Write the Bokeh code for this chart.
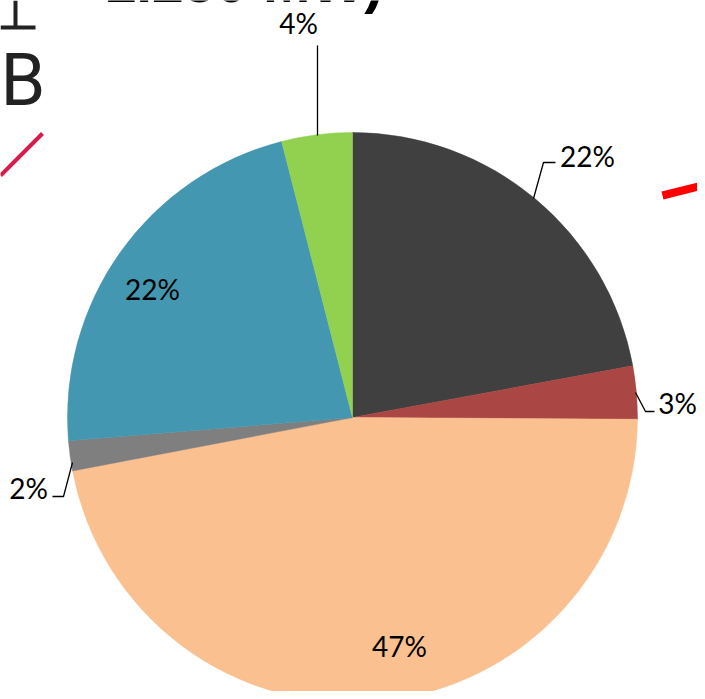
import math
from bokeh.plotting import figure
from bokeh.models import Range1d, ColumnDataSource
from bokeh.core.properties import value
from bokeh.embed import file_html
from bokeh.resources import INLINE

# ---- data ----
categories = ["Dark", "Red", "Peach", "Gray", "Blue", "Green"]
shares = [22.1, 3.0, 46.9, 1.7, 22.3, 4.0]
labels = ["22%", "3%", "47%", "2%", "22%", "4%"]
colors = ["#404040", "#AA4643", "#FAC090", "#7F7F7F", "#4397B0", "#92D050"]

# ---- layout (pixels in picture coords) ----
W, H = 697, 691
CX, CY = 352, 417          # pie centre
R = 285
label_pos = [(587, 155), (677, 402), (399, 645), (28, 487), (152, 288), (298, 22)]
leaders = [
    [(533, 198), (543, 162), (555, 162)],
    [(635, 392), (645, 411), (654, 411)],
    None,
    [(72, 462), (63, 496), (52, 496)],
    None,
    [(317, 135), (317, 45)],
]

def px(x):
    return x - CX

def py(y):
    return CY - y

p = figure(width=W, height=H, output_backend="svg", toolbar_location=None,
           x_range=Range1d(px(0), px(W)), y_range=Range1d(py(H), py(0)),
           min_border=0, outline_line_color=None, background_fill_color="white",
           border_fill_color="white")
p.axis.visible = False
p.grid.visible = False

total = sum(shares)
starts, ends = [], []
cum = 0.0
for s in shares:
    starts.append(math.pi / 2 - cum / total * 2 * math.pi)
    cum += s
    ends.append(math.pi / 2 - cum / total * 2 * math.pi)

src = ColumnDataSource(dict(start=starts, end=ends, color=colors, cat=categories))
p.wedge(x=0, y=0, radius=R, start_angle="start", end_angle="end",
        direction="clock", fill_color="color", line_color="color",
        line_width=0.5, source=src)

for ld in leaders:
    if ld:
        p.line([px(a) for a, b in ld], [py(b) for a, b in ld],
               line_color="black", line_width=1.3)

p.text(x=[px(a) for a, b in label_pos], y=[py(b) for a, b in label_pos], text=labels,
       text_align="center", text_baseline="middle", text_font=value("Lato"),
       text_font_size="28px", text_color="black")

# ---- cropped slide decorations visible in the reference ----
p.text(x=[px(104)], y=[py(-19)], text=["1.250 MW)"], text_align="left",
       text_baseline="middle", text_font=value("Liberation Sans"),
       text_font_style="bold", text_font_size="57px", text_color="black")
p.text(x=[px(0)], y=[py(80)], text=["B"], text_align="left",
       text_baseline="middle", text_font=value("Roboto"),
       text_font_size="72px", text_color="#222222")
p.line([px(15), px(15)], [py(0), py(27)], line_color="#222222", line_width=4)
p.line([px(0), px(35)], [py(27), py(27)], line_color="#222222", line_width=4)
p.line([px(0), px(42)], [py(175), py(133)], line_color="#D81B4A", line_width=4)
p.line([px(662), px(706)], [py(195), py(184)], line_color="#FF0000", line_width=8)

open("out.html", "w").write(file_html(p, INLINE))
